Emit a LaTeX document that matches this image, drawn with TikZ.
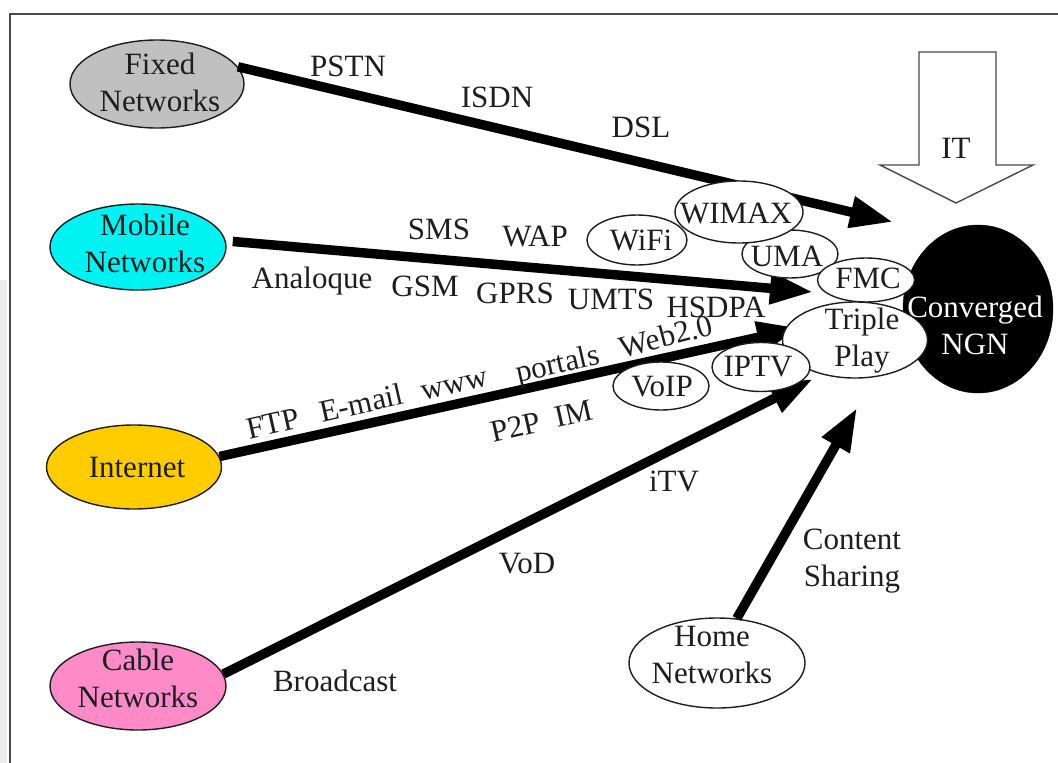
\documentclass[tikz,border=0pt]{standalone}
\usepackage{fontspec}
\setmainfont{Liberation Serif}
\usetikzlibrary{arrows.meta,shapes.geometric}

\definecolor{fixedgray}{HTML}{C0C0C0}
\definecolor{mobilecyan}{HTML}{00F2F2}
\definecolor{netyellow}{HTML}{FFCC00}
\definecolor{cablepink}{HTML}{FF8AC8}
\definecolor{ink}{HTML}{1E1E1E}
\definecolor{framegray}{HTML}{4A4A4A}

\begin{document}
\begin{tikzpicture}[x=1pt,y=-1pt,
  net/.style={ellipse, draw=ink, line width=1.4pt, inner sep=0pt},
  lbl/.style={text=ink, font=\fontsize{31}{37}\selectfont, inner sep=0pt, align=center},
  flow/.style={line width=9.5pt, black, -{Triangle[length=43pt,width=30pt]}},
]
% canvas and frame
\useasboundingbox (0,0) rectangle (1058,763);
\fill[white] (0,0) rectangle (1058,763);
\fill[gray!14] (0,280) rectangle (7,763);
\draw[framegray, line width=2.2pt] (10,763) -- (10,14) -- (1058,14);

% arrow end points near the converged core
\coordinate (fixtip) at (893,222);
\coordinate (mobtip) at (813,292);
\coordinate (inttip) at (800,328);
\coordinate (cabtip) at (813,379);
\coordinate (hometip) at (857,408);

% access networks
\node[net, fill=fixedgray,  minimum width=174pt, minimum height=88pt] (fixed)    at (157,84)  {};
\node[net, fill=mobilecyan, minimum width=176pt, minimum height=86pt] (mobile)   at (138,247) {};
\node[net, fill=netyellow,  minimum width=175pt, minimum height=84pt] (internet) at (134,467) {};
\node[net, fill=cablepink,  minimum width=176pt, minimum height=88pt] (cable)    at (138,686) {};
\node[net, fill=white,      minimum width=176pt, minimum height=90pt] (home)     at (717,663) {};

% flows into the core
\draw[flow] (fixed.12) -- (fixtip);
\draw[flow, shorten <=7pt] (mobile.4) -- (mobtip);
\draw[flow] (internet.7) -- (inttip);
\draw[flow] (cable.8) -- (cabtip);
\draw[flow] (home.66) -- (hometip);

% converged core
\node[ellipse, fill=black, draw=black, minimum width=150pt, minimum height=168pt, inner sep=0pt] (ngn) at (978,309) {};

% convergence technologies
\node[net, fill=white, minimum width=100pt, minimum height=50pt] (wifi)   at (637,240) {};
\node[net, fill=white, minimum width=96pt,  minimum height=48pt] (uma)    at (790,254) {};
\node[net, fill=white, minimum width=128pt, minimum height=62pt] (wimax)  at (739,212) {};
\node[net, fill=white, minimum width=97pt,  minimum height=44pt] (fmc)    at (866,280) {};
\node[net, fill=white, minimum width=145pt, minimum height=76pt] (triple) at (855,340) {};
\node[net, fill=white, minimum width=98pt,  minimum height=49pt] (iptv)   at (761,367) {};
\node[net, fill=white, minimum width=96pt,  minimum height=48pt] (voip)   at (661,386) {};

% IT block arrow
\draw[framegray, line width=1.4pt, fill=white, line join=miter]
  (919,52) -- (996,52) -- (996,165) -- (1033,165) -- (956,203) -- (880,165) -- (919,165) -- cycle;
\node[lbl] (t-it) at (956,148) {IT};

% node texts
\node[lbl] (t-fixed)    at (160,82)  {Fixed\\Networks};
\node[lbl] (t-mobile)   at (145,243) {Mobile\\Networks};
\node[lbl] (t-internet) at (137,467) {Internet};
\node[lbl] (t-cable)    at (138,678) {Cable\\Networks};
\node[lbl] (t-home)     at (712,655) {Home\\Networks};
\node[lbl, text=white]  (t-ngn) at (975,325) {Converged\\NGN};
\node[lbl] (t-wimax)  at (736,213) {WIMAX};
\node[lbl] (t-wifi)   at (641,240) {WiFi};
\node[lbl] (t-uma)    at (787,256) {UMA};
\node[lbl] (t-fmc)    at (868,278) {FMC};
\node[lbl] (t-triple) at (862,341) {Triple\\Play};
\node[lbl] (t-iptv)   at (758,367) {IPTV};
\node[lbl] (t-voip)   at (662,387) {VoIP};

% service labels
\node[lbl] (l-pstn) at (348,66)  {PSTN};
\node[lbl] (l-isdn) at (497,97)  {ISDN};
\node[lbl] (l-dsl)  at (641,127) {DSL};
\node[lbl] (l-sms)  at (439,229) {SMS};
\node[lbl] (l-wap)  at (535,236) {WAP};
\node[lbl] (l-analog) at (312,281) {Analoque};
\node[lbl] (l-gsm)  at (425,286) {GSM};
\node[lbl] (l-gprs) at (515,293) {GPRS};
\node[lbl] (l-umts) at (611,299) {UMTS};
\node[lbl] (l-hsdpa) at (716,307) {HSDPA};
\node[lbl, rotate=12.7] (l-ftp)     at (273,424) {FTP};
\node[lbl, rotate=12.7] (l-email)   at (361,403) {E-mail};
\node[lbl, rotate=12.7] (l-www)     at (455,386) {www};
\node[lbl, rotate=12.7] (l-portals) at (558,366) {portals};
\node[lbl, rotate=14.7] (l-web)     at (666,336) {Web2.0};
\node[lbl, rotate=12.7] (l-p2p)     at (542,421) {P2P\hspace{0.5em}IM};
\node[lbl] (l-itv)  at (674,481) {iTV};
\node[lbl] (l-vod)  at (527,564) {VoD};
\node[lbl] (l-broadcast) at (335,681) {Broadcast};
\node[lbl] (l-content) at (852,561) {Content\\Sharing};
\end{tikzpicture}
\end{document}
